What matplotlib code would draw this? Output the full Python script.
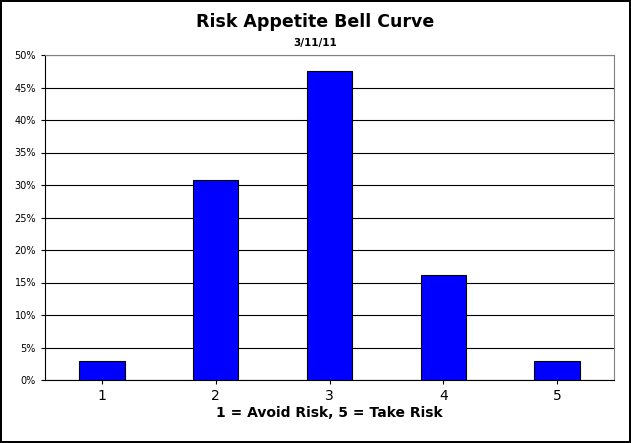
import matplotlib
matplotlib.use("Agg")
import matplotlib.pyplot as plt
from matplotlib.ticker import MultipleLocator, FuncFormatter

categories = ["1", "2", "3", "4", "5"]
values = [3.0, 30.7, 47.6, 16.1, 3.0]

fig = plt.figure(figsize=(6.31, 4.43), dpi=100)
fig.patch.set_edgecolor("black")
fig.patch.set_linewidth(1.5)
ax = fig.add_axes([45/631, 63/443, 569/631, (380-55)/443])
x = range(len(categories))
ax.bar(x, values, width=0.4, color="#0000FF", edgecolor="black", linewidth=0.8, zorder=3)
ax.set_xlim(-0.5, 4.5)
ax.set_ylim(0, 50)
ax.yaxis.set_major_locator(MultipleLocator(5))
ax.yaxis.set_major_formatter(FuncFormatter(lambda v, p: f"{int(v)}%"))
ax.grid(axis="y", color="black", linewidth=0.8, zorder=0)
ax.set_xticks(list(x))
ax.set_xticklabels(categories, fontsize=10)
ax.tick_params(axis="y", labelsize=7, length=3)
ax.tick_params(axis="x", length=3)
for s in ["top", "right"]:
    ax.spines[s].set_color("#808080")
ax.set_xlabel("1 = Avoid Risk, 5 = Take Risk", fontsize=10, fontweight="bold", labelpad=2)
fig.text(0.5, 1 - 22/443, "Risk Appetite Bell Curve", ha="center", va="center", fontsize=12.5, fontweight="bold")
fig.text(0.5, 1 - 43/443, "3/11/11", ha="center", va="center", fontsize=7.5, fontweight="bold")
fig.savefig("out.png", dpi=100, edgecolor=fig.get_edgecolor())
